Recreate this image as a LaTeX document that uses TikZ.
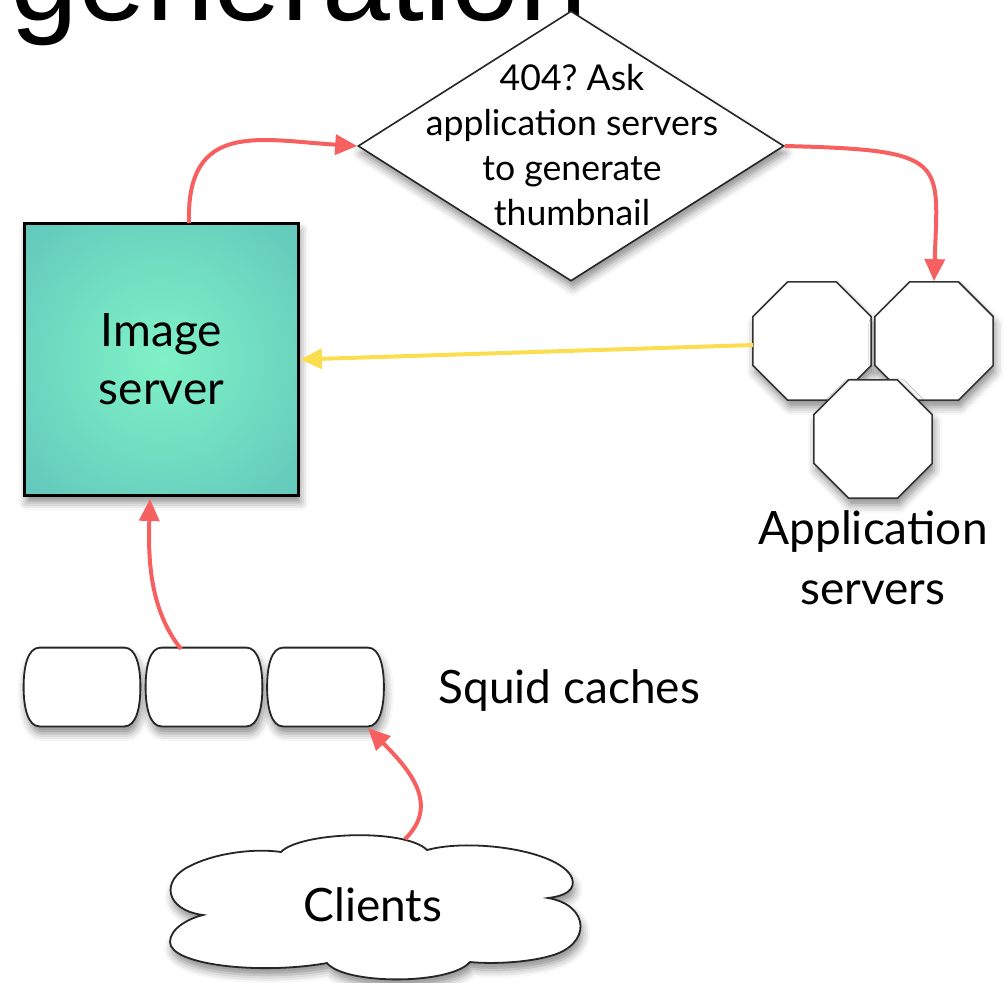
\documentclass[tikz,border=0pt]{standalone}
\usepackage{fontspec}
\setmainfont{Lato}
\newfontfamily\titlefont{Liberation Sans}
\usetikzlibrary{arrows.meta,shapes.geometric,shadows.blur}

\definecolor{linkred}{RGB}{246,96,96}
\definecolor{linkyellow}{RGB}{250,222,80}
\definecolor{tealin}{RGB}{128,242,198}
\definecolor{tealmid}{RGB}{86,182,184}
\definecolor{tealout}{RGB}{70,152,172}

% soft glow for the image server box: bright centre, teal edges
\pgfdeclareradialshading{tealglow}{\pgfpoint{0bp}{0bp}}{%
  color(0bp)=(tealin); color(50bp)=(tealmid); color(72bp)=(tealout)}

\tikzset{
  softshadow/.style={blur shadow={shadow xshift=1pt, shadow yshift=-3.5pt,
      shadow blur radius=4pt, shadow opacity=45}},
  redlink/.style={draw=linkred, line width=2pt, -{Triangle[length=11pt,width=10pt]}},
  yellowlink/.style={draw=linkyellow, line width=2pt, -{Triangle[length=11pt,width=10pt]}},
  appserver/.style={regular polygon, regular polygon sides=8, minimum size=64pt,
      inner sep=0pt, draw=black!80, line width=0.8pt, fill=white, softshadow},
  squidslot/.style={rectangle, minimum width=58pt, minimum height=39pt, inner sep=0pt},
  squidline/.style={draw=black!85, line width=0.9pt, fill=white, softshadow},
  biglabel/.style={font=\fontsize{23}{30}\selectfont, align=center, inner sep=0pt},
}

% barrel outline around a named squid node
\newcommand\barrelaround[1]{%
  \draw[squidline]
    ([xshift=-8pt]#1.north east)
    .. controls ([xshift=-2pt]#1.north east) and ([yshift=10pt]#1.east) .. (#1.east)
    .. controls ([yshift=-10pt]#1.east) and ([xshift=-2pt]#1.south east) .. ([xshift=-8pt]#1.south east)
    -- ([xshift=8pt]#1.south west)
    .. controls ([xshift=2pt]#1.south west) and ([yshift=-10pt]#1.west) .. (#1.west)
    .. controls ([yshift=10pt]#1.west) and ([xshift=2pt]#1.north west) .. ([xshift=8pt]#1.north west)
    -- cycle;}

\frenchspacing
\begin{document}
\begin{tikzpicture}[x=0.5pt, y=-0.5pt]
\useasboundingbox (0,0) rectangle (1005,982);
\clip (0,0) rectangle (1005,982);

% heading, partly cut off at the top edge
\node[anchor=base west, inner sep=0pt, font=\titlefont\fontsize{61}{61}\selectfont]
  (title) at (10,20) {generation};

% decision diamond
\node[diamond, draw=black!85, line width=0.8pt, fill=white, inner sep=0pt,
      minimum width=213pt, minimum height=135pt, softshadow] (decide) at (571,146) {};
\node[align=center, inner sep=0pt, font=\fontsize{17.8}{22.5}\selectfont]
  (decidetext) at (572,145) {404? Ask\\application servers\\to generate\\thumbnail};

% image server
\node[rectangle, draw=black, line width=1.5pt, shading=tealglow,
      minimum width=137pt, minimum height=136pt, inner sep=0pt, softshadow,
      biglabel, font=\fontsize{23}{29}\selectfont] (imgsrv) at (161.5,359.5) {Image\\server};

% application servers
\node[appserver] (app1) at (812,341) {};
\node[appserver] (app2) at (934,341) {};
\node[appserver] (app3) at (873,439) {};
\node[biglabel] (applabel) at (873,558) {Application\\servers};

% squid caches
\node[squidslot] (sq1) at (82,687) {};
\node[squidslot] (sq2) at (204,687) {};
\node[squidslot] (sq3) at (325.5,687) {};
\barrelaround{sq1}
\barrelaround{sq2}
\barrelaround{sq3}
\node[biglabel, anchor=west] (sqlabel) at (438,690) {Squid caches};

% clients cloud
\draw[draw=black!85, line width=0.9pt, fill=white, softshadow]
  (203,915)
  .. controls (165,910) and (160,880) .. (190,866)
  .. controls (215,853) and (255,848) .. (281,852)
  .. controls (300,832) and (405,828) .. (427,850)
  .. controls (470,838) and (560,850) .. (572,878)
  .. controls (576,890) and (565,896) .. (548,898)
  .. controls (590,905) and (592,945) .. (550,956)
  .. controls (525,963) and (490,964) .. (470,962)
  .. controls (450,985) and (345,985) .. (327,963)
  .. controls (260,975) and (170,965) .. (170,942)
  .. controls (170,928) and (190,918) .. cycle;
\node[biglabel] (clients) at (373,905) {Clients};

% connector end points on the shapes
\coordinate (imgtop) at (189,223);
\coordinate (imgbot) at (150,499);
\coordinate (sqtop) at (181,649);
\coordinate (sqbot) at (368,728);
\coordinate (cloudtop) at (405,839);
\coordinate (appleft) at (753,345);

% connectors
\draw[redlink] (imgtop) .. controls (186,120) and (260,140) .. (decide.west);
\draw[redlink] (decide.east) .. controls (950,150) and (938,160) .. (app2.north);
\draw[yellowlink] (appleft) -- (imgsrv.east);
\draw[redlink] (sqtop) .. controls (150,610) and (148,560) .. (imgbot);
\draw[redlink] (cloudtop) .. controls (440,805) and (410,770) .. (sqbot);
\end{tikzpicture}
\end{document}
